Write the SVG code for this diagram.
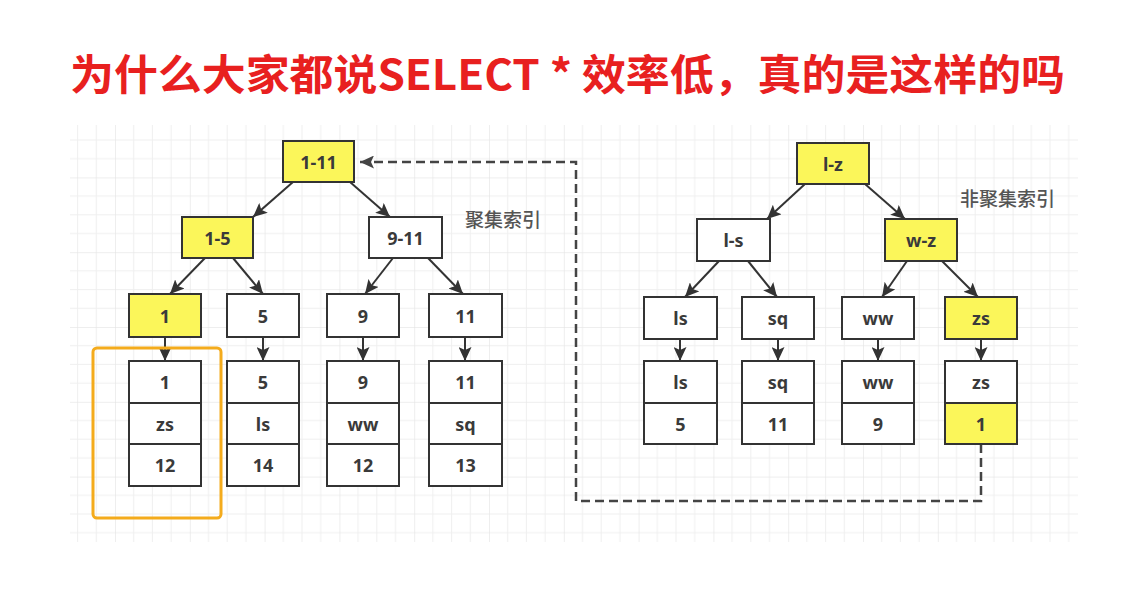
<svg xmlns="http://www.w3.org/2000/svg" width="1124" height="590" viewBox="0 0 1124 590">
  <defs>
    <pattern id="grid" patternUnits="userSpaceOnUse" x="115" y="177.4" width="74.8" height="74.8">
      <path d="M0 0V74.8M18.7 0V74.8M37.4 0V74.8M56.1 0V74.8M0 0H74.8M0 18.7H74.8M0 37.4H74.8M0 56.1H74.8" stroke="#efefef" stroke-width="1" fill="none"/>
      <path d="M0 0V74.8M0 0H74.8" stroke="#e3e3e3" stroke-width="1" fill="none"/>
    </pattern>
    <marker id="arr" markerUnits="userSpaceOnUse" markerWidth="15" markerHeight="13" refX="14" refY="6.5" orient="auto">
      <path d="M0,0 L14,6.5 L0,13 L3,6.5 Z" fill="#333"/>
    </marker>
    <marker id="arrD" markerUnits="userSpaceOnUse" markerWidth="15" markerHeight="13" refX="14" refY="6.5" orient="auto">
      <path d="M0,0 L14,6.5 L0,13 L3,6.5 Z" fill="#444"/>
    </marker>
  </defs>
  <style>
    .box{fill:#fff;stroke:#333;stroke-width:2}
    .hi{fill:#fbf65a;stroke:#333;stroke-width:2}
    .t{font-family:"Noto Sans","Open Sans",sans-serif;font-size:18px;font-weight:bold;fill:#3a3a3a;text-anchor:middle;dominant-baseline:central}
    .lbl{font-family:"Noto Sans CJK SC",sans-serif;font-size:19px;font-weight:500;fill:#555;dominant-baseline:central}
    .e{stroke:#333;stroke-width:2;fill:none;marker-end:url(#arr)}
    .dash{stroke:#444;stroke-width:2.5;fill:none;stroke-dasharray:9 5}
  </style>
  <rect width="1124" height="590" fill="#fff"/>
  <rect x="70" y="125" width="1008" height="417" fill="url(#grid)"/>

  <text id="title" x="567.5" y="71" font-family="'Noto Sans CJK SC',sans-serif" font-size="42" font-weight="bold" fill="#e8201f" text-anchor="middle" dominant-baseline="central" textLength="995" lengthAdjust="spacingAndGlyphs">为什么大家都说SELECT * 效率低，真的是这样的吗</text>

  <g id="connectors">
    <line class="e" x1="293" y1="182" x2="253" y2="217"/>
    <line class="e" x1="350" y1="182" x2="390" y2="217"/>
    <line class="e" x1="205" y1="258" x2="170" y2="294"/>
    <line class="e" x1="233" y1="258" x2="263" y2="294"/>
    <line class="e" x1="393" y1="258" x2="365" y2="294"/>
    <line class="e" x1="428" y1="258" x2="463" y2="294"/>
    <line class="e" x1="165" y1="337" x2="165" y2="361"/>
    <line class="e" x1="263" y1="337" x2="263" y2="361"/>
    <line class="e" x1="363" y1="337" x2="363" y2="361"/>
    <line class="e" x1="465" y1="337" x2="465" y2="361"/>

    <line class="e" x1="805" y1="184" x2="767" y2="219"/>
    <line class="e" x1="865" y1="184" x2="905" y2="219"/>
    <line class="e" x1="719" y1="261" x2="685" y2="297"/>
    <line class="e" x1="748" y1="261" x2="777" y2="297"/>
    <line class="e" x1="907" y1="261" x2="882" y2="297"/>
    <line class="e" x1="942" y1="261" x2="978" y2="297"/>
    <line class="e" x1="680" y1="339" x2="680" y2="361"/>
    <line class="e" x1="778" y1="339" x2="778" y2="361"/>
    <line class="e" x1="878" y1="339" x2="878" y2="361"/>
    <line class="e" x1="981" y1="339" x2="981" y2="361"/>

    <path class="dash" d="M981 444V501H576V162H360" marker-end="url(#arrD)"/>
  </g>

  <g id="cluster-highlight">
    <rect x="93" y="348" width="128" height="170" rx="4" fill="none" stroke="#f4ab1c" stroke-width="3"/>
  </g>

  <g id="label-clustered"><text class="lbl" x="465" y="218">聚集索引</text></g>
  <g id="label-nonclustered"><text class="lbl" x="960" y="197" font-size="20">非聚集索引</text></g>

  <!-- clustered index tree -->
  <g id="n-1-11"><rect class="hi" x="283" y="141" width="71" height="41"/><text class="t" x="318.5" y="161.5">1-11</text></g>
  <g id="n-1-5"><rect class="hi" x="182" y="217" width="71" height="41"/><text class="t" x="217.5" y="237.5">1-5</text></g>
  <g id="n-9-11"><rect class="box" x="369" y="217" width="73" height="41"/><text class="t" x="405.5" y="237.5">9-11</text></g>
  <g id="n-1"><rect class="hi" x="129" y="294" width="72" height="43"/><text class="t" x="165" y="315.5">1</text></g>
  <g id="n-5"><rect class="box" x="227" y="294" width="72" height="43"/><text class="t" x="263" y="315.5">5</text></g>
  <g id="n-9"><rect class="box" x="327" y="294" width="72" height="43"/><text class="t" x="363" y="315.5">9</text></g>
  <g id="n-11"><rect class="box" x="429" y="294" width="73" height="43"/><text class="t" x="465.5" y="315.5">11</text></g>

  <g id="d-1">
    <rect class="box" x="129" y="361" width="72" height="42"/><text class="t" x="165" y="382">1</text>
    <rect class="box" x="129" y="403" width="72" height="41"/><text class="t" x="165" y="423.5">zs</text>
    <rect class="box" x="129" y="444" width="72" height="42"/><text class="t" x="165" y="465">12</text>
  </g>
  <g id="d-5">
    <rect class="box" x="227" y="361" width="72" height="42"/><text class="t" x="263" y="382">5</text>
    <rect class="box" x="227" y="403" width="72" height="41"/><text class="t" x="263" y="423.5">ls</text>
    <rect class="box" x="227" y="444" width="72" height="42"/><text class="t" x="263" y="465">14</text>
  </g>
  <g id="d-9">
    <rect class="box" x="327" y="361" width="72" height="42"/><text class="t" x="363" y="382">9</text>
    <rect class="box" x="327" y="403" width="72" height="41"/><text class="t" x="363" y="423.5">ww</text>
    <rect class="box" x="327" y="444" width="72" height="42"/><text class="t" x="363" y="465">12</text>
  </g>
  <g id="d-11">
    <rect class="box" x="429" y="361" width="73" height="42"/><text class="t" x="465.5" y="382">11</text>
    <rect class="box" x="429" y="403" width="73" height="41"/><text class="t" x="465.5" y="423.5">sq</text>
    <rect class="box" x="429" y="444" width="73" height="42"/><text class="t" x="465.5" y="465">13</text>
  </g>

  <!-- non-clustered index tree -->
  <g id="n-l-z"><rect class="hi" x="797" y="143" width="72" height="41"/><text class="t" x="833" y="163.5">l-z</text></g>
  <g id="n-l-s"><rect class="box" x="697" y="219" width="73" height="42"/><text class="t" x="733.5" y="240">l-s</text></g>
  <g id="n-w-z"><rect class="hi" x="885" y="219" width="72" height="42"/><text class="t" x="921" y="240">w-z</text></g>
  <g id="n-ls"><rect class="box" x="644" y="297" width="73" height="42"/><text class="t" x="680.5" y="318">ls</text></g>
  <g id="n-sq"><rect class="box" x="742" y="297" width="72" height="42"/><text class="t" x="778" y="318">sq</text></g>
  <g id="n-ww"><rect class="box" x="842" y="297" width="72" height="42"/><text class="t" x="878" y="318">ww</text></g>
  <g id="n-zs"><rect class="hi" x="945" y="297" width="72" height="42"/><text class="t" x="981" y="318">zs</text></g>

  <g id="d-ls">
    <rect class="box" x="644" y="361" width="73" height="42"/><text class="t" x="680.5" y="382">ls</text>
    <rect class="box" x="644" y="403" width="73" height="41"/><text class="t" x="680.5" y="423.5">5</text>
  </g>
  <g id="d-sq">
    <rect class="box" x="742" y="361" width="72" height="42"/><text class="t" x="778" y="382">sq</text>
    <rect class="box" x="742" y="403" width="72" height="41"/><text class="t" x="778" y="423.5">11</text>
  </g>
  <g id="d-ww">
    <rect class="box" x="842" y="361" width="72" height="42"/><text class="t" x="878" y="382">ww</text>
    <rect class="box" x="842" y="403" width="72" height="41"/><text class="t" x="878" y="423.5">9</text>
  </g>
  <g id="d-zs">
    <rect class="box" x="945" y="361" width="72" height="42"/><text class="t" x="981" y="382">zs</text>
    <rect class="hi" x="945" y="403" width="72" height="41"/><text class="t" x="981" y="423.5">1</text>
  </g>
</svg>
